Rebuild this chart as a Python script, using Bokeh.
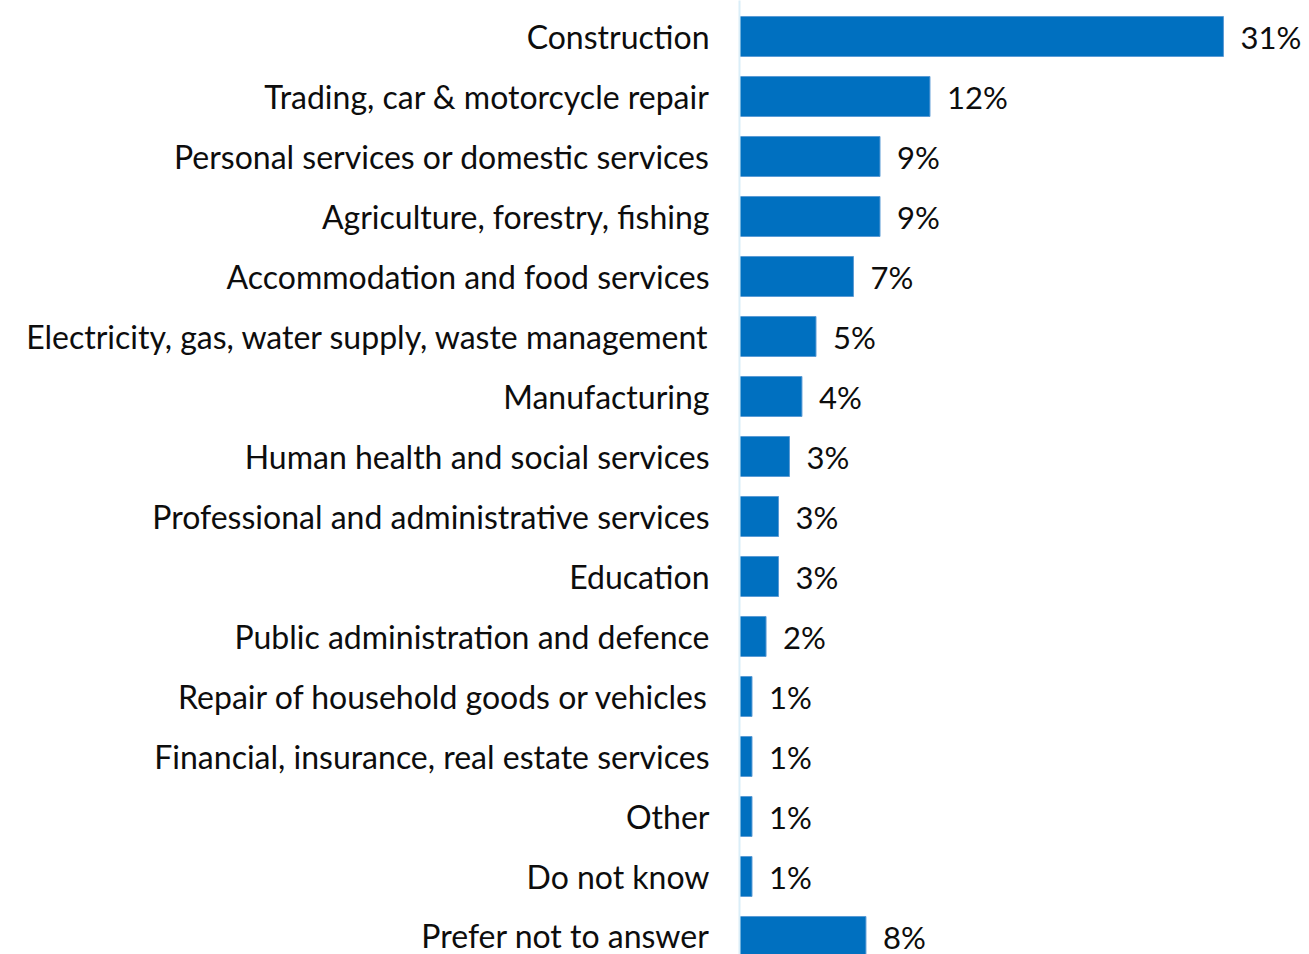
from bokeh.plotting import figure
from bokeh.models import ColumnDataSource, Range1d, FixedTicker, LabelSet
from bokeh.core.properties import value
from bokeh.embed import file_html
from bokeh.resources import INLINE

categories = [
    "Construction",
    "Trading, car & motorcycle repair",
    "Personal services or domestic services",
    "Agriculture, forestry, fishing",
    "Accommodation and food services",
    "Electricity, gas, water supply, waste management",
    "Manufacturing",
    "Human health and social services",
    "Professional and administrative services",
    "Education",
    "Public administration and defence",
    "Repair of household goods or vehicles",
    "Financial, insurance, real estate services",
    "Other",
    "Do not know",
    "Prefer not to answer",
]
values = [31.0, 12.2, 9.0, 9.0, 7.3, 4.9, 4.0, 3.2, 2.5, 2.5, 1.7, 0.8, 0.8, 0.8, 0.8, 8.1]
value_labels = ["31%", "12%", "9%", "9%", "7%", "5%", "4%", "3%", "3%", "3%", "2%", "1%", "1%", "1%", "1%", "8%"]

FONT = "Lato"
positions = list(range(len(categories)))

source = ColumnDataSource(data=dict(y=positions, v=values, lab=value_labels))

p = figure(
    width=1301, height=954,
    output_backend="svg", toolbar_location=None,
    x_range=Range1d(0, 36.0),
    y_range=Range1d(15.3, -0.6),
    min_border_left=739, min_border_right=0, min_border_top=0, min_border_bottom=0,
)
p.outline_line_color = None
p.background_fill_color = "white"
p.border_fill_color = "white"
p.xgrid.visible = False
p.ygrid.visible = False
p.xaxis.visible = False

p.hbar(y="y", right="v", left=0, height=0.667, source=source,
       fill_color="#0070C0", line_color="#5B9BD5", line_width=1)

labels = LabelSet(x="v", y="y", text="lab", source=source, x_offset=17,
                  text_baseline="middle", text_align="left",
                  text_font=value(FONT), text_font_size="31px", text_color="#0d0d0d")
p.add_layout(labels)

ya = p.yaxis[0]
ya.ticker = FixedTicker(ticks=positions)
ya.major_label_overrides = {i: c for i, c in enumerate(categories)}
ya.major_tick_line_color = None
ya.minor_tick_line_color = None
ya.major_tick_out = 0
ya.major_tick_in = 0
ya.axis_line_color = "#DAEEF8"
ya.axis_line_width = 2
ya.major_label_standoff = 30
ya.major_label_text_font = FONT
ya.major_label_text_font_size = "32px"
ya.major_label_text_color = "#0d0d0d"

open("out.html", "w").write(file_html(p, INLINE))
